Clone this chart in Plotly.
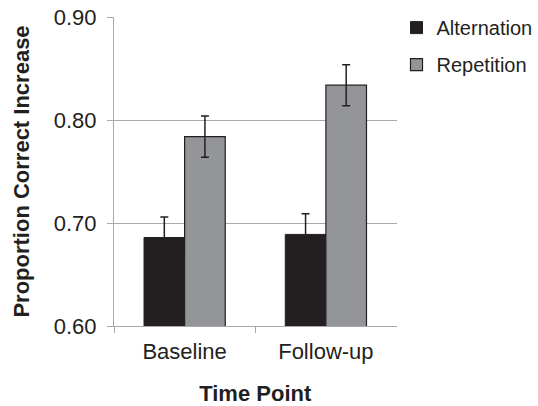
import plotly.graph_objects as go

categories = ["Baseline", "Follow-up"]
alternation = [0.686, 0.689]
alternation_err = [0.020, 0.020]
repetition = [0.784, 0.834]
repetition_err = [0.020, 0.020]
y_ticks = [0.60, 0.70, 0.80, 0.90]

DARK = "#231f20"
GRAY = "#939598"
AXIS = "#a7a9ac"
FONT = "Liberation Sans, Arial, sans-serif"

fig = go.Figure()
fig.add_trace(go.Bar(
    name="Alternation", x=categories, y=alternation, legendgroup="a",
    marker=dict(color=DARK, line=dict(color=DARK, width=1)),
    error_y=dict(type="data", array=alternation_err, color=DARK, thickness=1.5, width=4),
))
fig.add_trace(go.Bar(
    name="Repetition", x=categories, y=repetition, legendgroup="r",
    marker=dict(color=GRAY, line=dict(color=DARK, width=1.2)),
    error_y=dict(type="data", array=repetition_err, color=DARK, thickness=1.5, width=4),
))

fig.update_layout(
    width=538, height=406,
    margin=dict(l=114, r=135, t=17, b=80),
    paper_bgcolor="white", plot_bgcolor="white",
    barmode="group", bargap=0.425, bargroupgap=0,
    font=dict(family=FONT, size=21, color=DARK),
    showlegend=True,
    legend=dict(x=0.737, xanchor="left", y=0.98, yanchor="top",
                xref="container", yref="container",
                bgcolor="rgba(0,0,0,0)", font=dict(size=20, color=DARK),
                tracegroupgap=8, itemwidth=30),
)
fig.update_xaxes(
    type="category", tickson="boundaries", ticks="outside", ticklen=6,
    tickcolor=AXIS, tickwidth=1, showline=True, linecolor=AXIS, linewidth=1,
    showgrid=False, automargin=False, ticklabelstandoff=6,
    tickfont=dict(size=22, color=DARK),
    title=dict(text="<b>Time Point</b>", font=dict(size=22, color=DARK), standoff=24),
)
fig.update_yaxes(
    range=[0.6, 0.9003], tickvals=y_ticks, tickformat=".2f",
    ticks="outside", ticklen=6, tickcolor=AXIS, tickwidth=1,
    showline=True, linecolor=AXIS, linewidth=1, automargin=False,
    showgrid=True, gridcolor=AXIS, gridwidth=1, zeroline=False, ticklabelstandoff=6,
    ticklabeloverflow="allow",
    tickfont=dict(size=22, color=DARK),
    title=dict(text="<b>Proportion Correct Increase</b>", font=dict(size=22, color=DARK), standoff=18),
)

# remove the default 8px page margin so the figure fills the window exactly
fig.write_html("out.html", config={"displayModeBar": False},
               post_script="document.body.style.margin='0';")
